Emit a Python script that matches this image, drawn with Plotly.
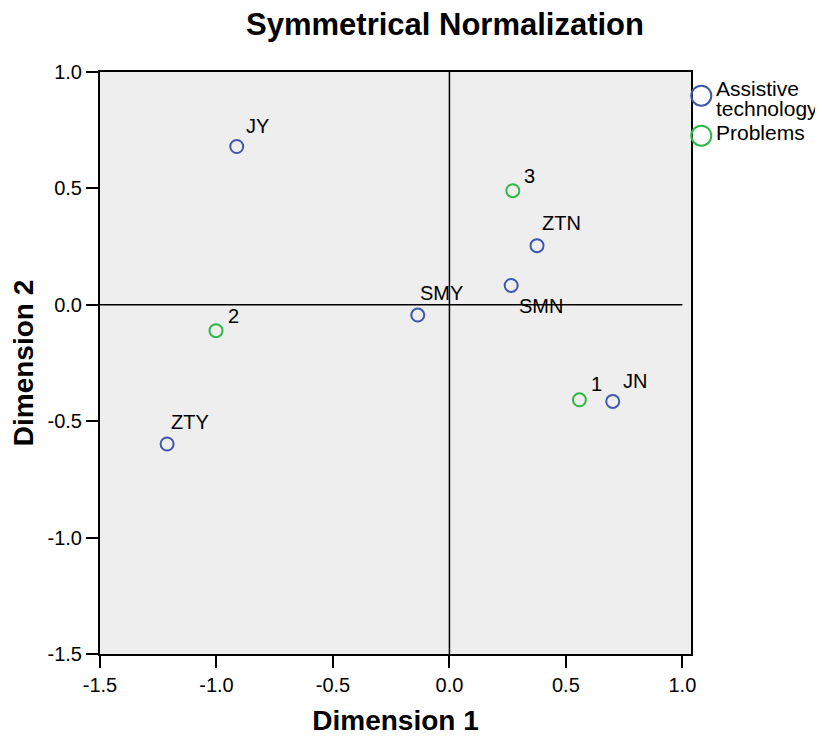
import plotly.graph_objects as go

# ---- data ----
tech_labels = ["JY", "ZTN", "SMN", "SMY", "ZTY", "JN"]
tech_dim1 = [-0.913, 0.376, 0.265, -0.136, -1.212, 0.701]
tech_dim2 = [0.680, 0.254, 0.083, -0.044, -0.598, -0.415]

prob_labels = ["3", "2", "1"]
prob_dim1 = [0.272, -1.002, 0.558]
prob_dim2 = [0.490, -0.111, -0.408]

x_ticks = [-1.5, -1.0, -0.5, 0.0, 0.5, 1.0]
y_ticks = [-1.5, -1.0, -0.5, 0.0, 0.5, 1.0]

series_names = ["Assistive technology", "Problems"]

# ---- style ----
BLUE = "#3E58AC"
GREEN = "#2EB848"
FONT = "Arial, Liberation Sans, sans-serif"
OFF = 8                      # page body margin
W, H = 823 - OFF, 744 - 2 * OFF
PL, PT = 100, 72             # plot area left/top in page pixels
PR, PB = 691, 654            # plot area right/bottom in page pixels
ML, MT = PL - OFF, PT - OFF
MR, MB = OFF + W - PR, OFF + H - PB
PW, PH = PR - PL, PB - PT

def px_x(px):
    return (px - PL) / PW

def px_y(py):
    return 1 - (py - PT) / PH

# label offsets in pixels (left edge / vertical centre relative to point)
tech_off = [(9, -21), (5, -23), (8, 21), (2, -22), (4, -22), (10, -20)]
prob_off = [(11, -15), (12, -15), (12, -16)]

fig = go.Figure()

fig.add_trace(go.Scatter(
    x=tech_dim1, y=tech_dim2, mode="markers", name=series_names[0],
    marker=dict(symbol="circle-open", size=13, color=BLUE, line=dict(width=2, color=BLUE)),
    showlegend=False, hoverinfo="skip"))
fig.add_trace(go.Scatter(
    x=prob_dim1, y=prob_dim2, mode="markers", name=series_names[1],
    marker=dict(symbol="circle-open", size=13, color=GREEN, line=dict(width=2, color=GREEN)),
    showlegend=False, hoverinfo="skip"))

annotations = []
for xs, ys, labs, offs in [(tech_dim1, tech_dim2, tech_labels, tech_off),
                           (prob_dim1, prob_dim2, prob_labels, prob_off)]:
    for x, y, t, (dx, dy) in zip(xs, ys, labs, offs):
        annotations.append(dict(
            x=x, y=y, xref="x", yref="y", text=t, showarrow=False,
            xanchor="left", yanchor="middle", xshift=dx - 2, yshift=-dy,
            font=dict(family=FONT, size=20, color="black")))

# manual legend (outside plot, right)
legend_text = [("Assistive", 88.0), ("technology", 108.5), ("Problems", 133.0)]
for t, py in legend_text:
    annotations.append(dict(
        x=px_x(715), y=px_y(py), xref="paper", yref="paper", text=t, showarrow=False,
        xanchor="left", yanchor="middle", borderpad=0,
        font=dict(family=FONT, size=21, color="black")))

shapes = [
    dict(type="line", xref="x", yref="y", x0=x_ticks[0], x1=x_ticks[-1], y0=0, y1=0,
         line=dict(color="black", width=1.5), layer="below"),
    dict(type="line", xref="x", yref="y", x0=0, x1=0, y0=y_ticks[0], y1=y_ticks[-1],
         line=dict(color="black", width=1.5), layer="below"),
]
for col, py in [(BLUE, 95.7), (GREEN, 135.7)]:
    shapes.append(dict(
        type="circle", xref="paper", yref="paper", xsizemode="pixel", ysizemode="pixel",
        xanchor=px_x(701.3), yanchor=px_y(py), x0=-10, x1=10, y0=-10, y1=10,
        line=dict(color=col, width=2), fillcolor="rgba(0,0,0,0)", layer="above"))

fig.update_layout(
    width=W, height=H,
    margin=dict(l=ML, r=MR, t=MT, b=MB, autoexpand=False),
    paper_bgcolor="white", plot_bgcolor="#EEEEEE",
    showlegend=False,
    font=dict(family=FONT, size=20, color="black"),
    title=dict(text="<b>Symmetrical Normalization</b>", x=(445 - OFF) / W, xanchor="center",
               y=1 - (24 - OFF) / H, yanchor="middle",
               font=dict(family=FONT, size=31, color="black")),
    xaxis=dict(range=[-1.5, 1.037], tickvals=x_ticks, ticktext=[f"{v:.1f}" for v in x_ticks],
               showgrid=False, zeroline=False, showline=True, linecolor="black", linewidth=2,
               mirror=True, ticks="outside", ticklen=12, tickwidth=2, tickcolor="black",
               tickfont=dict(size=20), automargin=False,
               title=dict(text="<b>Dimension 1</b>", font=dict(size=28), standoff=25)),
    yaxis=dict(range=[-1.5, 1.0], tickvals=y_ticks, ticktext=[f"{v:.1f}" for v in y_ticks],
               showgrid=False, zeroline=False, showline=True, linecolor="black", linewidth=2,
               mirror=True, ticks="outside", ticklen=12, tickwidth=2, tickcolor="black",
               tickfont=dict(size=20), automargin=False,
               title=dict(text="<b>Dimension 2</b>", font=dict(size=28), standoff=14)),
    annotations=annotations, shapes=shapes,
)

fig.write_html("out.html")
